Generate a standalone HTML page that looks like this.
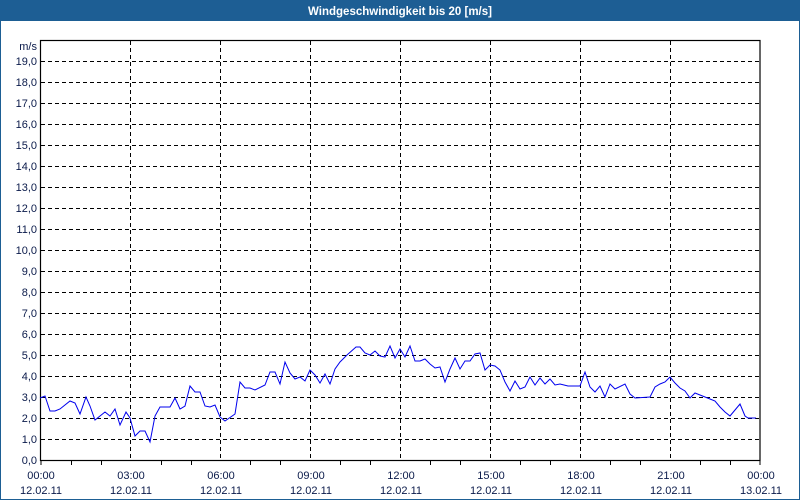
<!DOCTYPE html>
<html><head><meta charset="utf-8"><style>
html,body{margin:0;padding:0;background:#fff;}
svg{display:block;font-family:"Liberation Sans","DejaVu Sans",sans-serif;}
</style></head><body>
<svg width="800" height="500" viewBox="0 0 800 500" xmlns="http://www.w3.org/2000/svg">
<rect x="0" y="0" width="800" height="500" fill="#fff"/>
<rect x="0.5" y="0.5" width="799" height="499" fill="none" stroke="#1d5e94" stroke-width="1"/>
<rect x="0" y="0" width="800" height="21" fill="#1d5e94"/>
<text x="400" y="15" text-anchor="middle" font-size="11.5" font-weight="bold" fill="#fff">Windgeschwindigkeit bis 20 [m/s]</text>
<g stroke="#000" stroke-width="1" stroke-dasharray="4,3" fill="none">
<path d="M41 61.5H760M41 82.5H760M41 103.5H760M41 124.5H760M41 145.5H760M41 166.5H760M41 187.5H760M41 208.5H760M41 229.5H760M41 250.5H760M41 271.5H760M41 292.5H760M41 313.5H760M41 334.5H760M41 355.5H760M41 376.5H760M41 397.5H760M41 418.5H760M41 439.5H760"/>
<path d="M130.5 41V460M220.5 41V460M310.5 41V460M400.5 41V460M490.5 41V460M580.5 41V460M670.5 41V460"/>
</g>
<g stroke="#000" stroke-width="1">
<path d="M71.5 460v5M101.5 460v5M161.5 460v5M191.5 460v5M250.5 460v5M280.5 460v5M340.5 460v5M370.5 460v5M430.5 460v5M460.5 460v5M520.5 460v5M550.5 460v5M610.5 460v5M640.5 460v5M700.5 460v5M730.5 460v5M41 460v5M760 460v5"/>
</g>
<rect x="40.5" y="40.5" width="719.5" height="420" fill="none" stroke="#000" stroke-width="1.2"/>
<polyline fill="none" stroke="#0000ee" stroke-width="1" points="40,398 45,396 50,411 55,411 60,409 70,401 75,403 80,414 86,397 90,406 95,420 100,416 105,412 110,416 115,409 120,425 126,412 130,418 135,436 140,431 145,431 150,442 155,416 160,407 170,407 175,398 180,409 185,406 190,386 195,392 200,392 205,406 210,407 215,405 220,417 225,421 235,414 240,382 245,388 250,388 255,390 265,385 270,372 275,372 280,384 285,362 290,373 295,379 300,377 305,381 310,370 315,375 320,383 325,374 330,384 335,369 340,362 347,355 356,347 360,347 365,353 370,355 375,351 380,356 385,357 390,346 395,358 400,349 405,357 410,346 415,361 420,361 425,359 430,364 435,368 440,367 445,382 450,369 455,358 460,369 465,361 470,361 475,354 480,353 485,370 490,365 495,366 500,370 505,382 510,391 515,381 520,389 525,387 530,377 535,385 540,378 545,384 550,379 555,385 560,384 568,386 580,386 585,372 590,387 595,392 600,386 605,397 610,384 615,389 625,384 630,394 635,398 650,397 655,387 660,384 665,382 670,377 675,383 680,388 685,391 690,398 695,393 700,395 705,397 710,399 715,401 720,407 725,412 730,416 740,404 745,416 748,418 756,418"/>
<g font-size="11" fill="#0a1a4a" text-anchor="end">
<text x="37" y="50">m/s</text>
<text x="37" y="65">19,0</text><text x="37" y="86">18,0</text><text x="37" y="107">17,0</text><text x="37" y="128">16,0</text><text x="37" y="149">15,0</text><text x="37" y="170">14,0</text><text x="37" y="191">13,0</text><text x="37" y="212">12,0</text><text x="37" y="233">11,0</text><text x="37" y="254">10,0</text><text x="37" y="275">9,0</text><text x="37" y="296">8,0</text><text x="37" y="317">7,0</text><text x="37" y="338">6,0</text><text x="37" y="359">5,0</text><text x="37" y="380">4,0</text><text x="37" y="401">3,0</text><text x="37" y="422">2,0</text><text x="37" y="443">1,0</text><text x="37" y="464">0,0</text>
</g>
<g font-size="11" fill="#0a1a4a" text-anchor="middle">
<text x="41" y="479">00:00</text><text x="41" y="494">12.02.11</text>
<text x="131" y="479">03:00</text><text x="131" y="494">12.02.11</text>
<text x="221" y="479">06:00</text><text x="221" y="494">12.02.11</text>
<text x="311" y="479">09:00</text><text x="311" y="494">12.02.11</text>
<text x="401" y="479">12:00</text><text x="401" y="494">12.02.11</text>
<text x="491" y="479">15:00</text><text x="491" y="494">12.02.11</text>
<text x="581" y="479">18:00</text><text x="581" y="494">12.02.11</text>
<text x="671" y="479">21:00</text><text x="671" y="494">12.02.11</text>
<text x="761" y="479">00:00</text><text x="761" y="494">13.02.11</text>
</g>
</svg>
</body></html>
